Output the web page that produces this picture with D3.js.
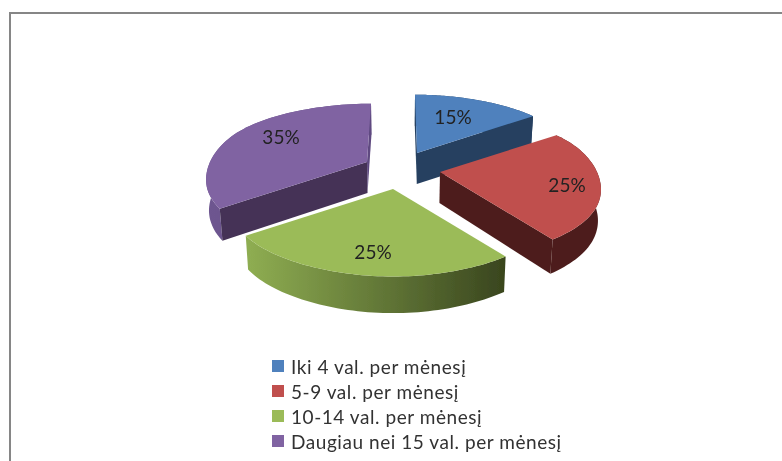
<!DOCTYPE html>
<html><head><meta charset="utf-8">
<script src="https://d3js.org/d3.v7.min.js"></script>
<style>html,body{margin:0;padding:0;background:#fff}svg{display:block}</style>
</head><body><svg id="c" width="782" height="461"></svg>
<script>
const categories = ["Iki 4 val. per mėnesį","5-9 val. per mėnesį","10-14 val. per mėnesį","Daugiau nei 15 val. per mėnesį"];
const shares = [15,25,25,35];
const labels = ["15%","25%","25%","35%"];
const topColors = ["#4f81bd","#c0504d","#9bbb59","#8064a2"];
const wallColors = ["#254061","#4d1e1c","#3c4a20","#453356"];
const rimStart = ["#254061","#4d1e1c","#8fae52","#6e5690"];
const rimEnd = ["#254061","#4d1e1c","#39451e","#5f4a80"];

// layout
const W=782,H=461, cx=401, cy=169, R=161, B=70, P=0.2;
const explodeOffsets=[[16,-16],[39,3],[-8,20],[-34,-7]];
const backLean=[-2,0,0,4];
const labelOffsets=[[52,-53],[166,15],[-28,82],[-120,-33]];
const svg=d3.select("#c");
const defs=svg.append("defs");
const blur=defs.append("filter").attr("id","soft").attr("x","-5%").attr("y","-5%").attr("width","110%").attr("height","110%");
blur.append("feGaussianBlur").attr("stdDeviation",0.5);

const root=svg.append("g").attr("filter","url(#soft)");
root.append("path").attr("d",d3.line()([[10,465],[10,13],[790,13]])).attr("fill","none").attr("stroke","#868686").attr("stroke-width",2);

const pie=d3.pie().sort(null).startAngle(0).endAngle(2*Math.PI);
const arcs=pie(shares);
const line=d3.line();

function proj(o,t,lean){const c=Math.cos(t), s=1/(1+P*c), c2=Math.cos(2*t);
  const r=R*(1-0.025*c2*c2);
  return [o[0]+r*Math.sin(t)*s+lean*Math.pow(Math.max(0,c),4), o[1]-B*c*s];}
function drop(p){const d=31+Math.max(0,p[1]-190)*0.065;
  return [cx+(p[0]-cx)*0.985, p[1]+d];}

const order=[0,3,1,2];
order.forEach(i=>{
  const a=arcs[i], o=[cx+explodeOffsets[i][0],cy+explodeOffsets[i][1]];
  const ts=d3.range(0,61).map(k=>a.startAngle+(a.endAngle-a.startAngle)*k/60);
  const rim=ts.map(t=>proj(o,t,backLean[i]));
  const xs=d3.extent(rim,p=>p[0]);
  const g=defs.append("linearGradient").attr("id","rim"+i).attr("gradientUnits","userSpaceOnUse")
    .attr("x1",xs[0]).attr("x2",xs[1]).attr("y1",0).attr("y2",0);
  g.append("stop").attr("offset",0).attr("stop-color",rimStart[i]);
  g.append("stop").attr("offset",1).attr("stop-color",rimEnd[i]);
  const wall=(p,col)=>root.append("path").attr("d",line([o,p,drop(p),drop(o)])+"Z").attr("fill",col);
  const eps=1e-6, ss=Math.sin(a.startAngle), se=Math.sin(a.endAngle);
  root.append("path").attr("d",line(rim.concat(rim.slice().reverse().map(drop)))+"Z").attr("fill",`url(#rim${i})`);
  if(ss<=eps) wall(rim[0], Math.abs(ss)<eps?rimEnd[i]:wallColors[i]);
  if(se>=-eps) wall(rim[60], Math.abs(se)<eps?rimEnd[i]:wallColors[i]);
  root.append("path").attr("d",line([o].concat(rim))+"Z").attr("fill",topColors[i]);
});

const font="Lato, 'Open Sans', sans-serif";
root.selectAll("text.v").data(labels).join("text").attr("class","v")
  .attr("x",(d,i)=>cx+labelOffsets[i][0]).attr("y",(d,i)=>cy+labelOffsets[i][1])
  .attr("text-anchor","middle").attr("dominant-baseline","central")
  .attr("font-family",font).attr("font-size",19).attr("fill","#222").text(d=>d);

const ly=d3.scalePoint().domain(categories).range([366,441]);
const lg=root.selectAll("g.l").data(categories).join("g").attr("class","l").attr("transform",d=>`translate(272,${ly(d)})`);
lg.append("rect").attr("y",-6).attr("width",12).attr("height",12).attr("fill",(d,i)=>topColors[i]);
lg.append("text").attr("x",19).attr("y",0).attr("dominant-baseline","central")
  .attr("font-family",font).attr("font-size",19).attr("fill","#333").attr("letter-spacing",0.55).text(d=>d);
</script></body></html>
